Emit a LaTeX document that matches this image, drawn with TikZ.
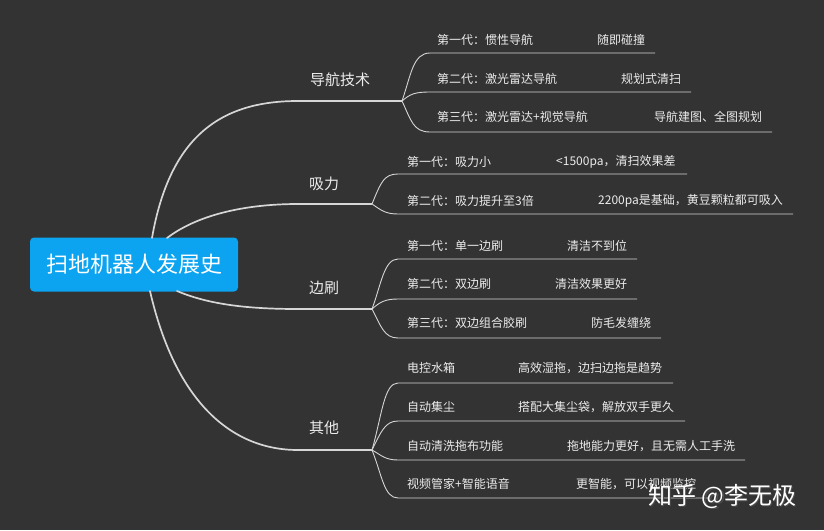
\documentclass[tikz,border=0pt]{standalone}
\usepackage{fontspec}
\setmainfont{Noto Sans CJK SC}
\definecolor{bg}{RGB}{51,51,51}
\definecolor{rootblue}{RGB}{12,163,240}
\definecolor{linec}{RGB}{214,214,214}
\definecolor{txt}{RGB}{236,236,236}
\begin{document}
\begin{tikzpicture}[x=1pt,y=-1pt,
  mainline/.style={draw=linec,line width=1.7pt,line cap=round},
  midline/.style={draw=linec,line width=1.1pt},
  subline/.style={draw=linec,line width=0.9pt},
  branchtxt/.style={text=txt,font=\fontsize{15}{15}\selectfont,inner sep=0pt},
  subtxt/.style={text=txt,font=\fontsize{12}{12}\selectfont,inner sep=0pt,anchor=west},
  rootbox/.style={fill=rootblue,rounded corners=4pt,text=white,font=\fontsize{22}{22}\selectfont,minimum width=208pt,minimum height=54pt,inner sep=0pt}]
\useasboundingbox (0,0) rectangle (824,530);
\fill[bg] (0,0) rectangle (824,530);

% root
\node[rootbox] (root) at (134,264.5) {扫地机器人发展史};
\coordinate (r1) at (152,238);
\coordinate (r2) at (167,238);
\coordinate (r3) at (177,291);
\coordinate (r4) at (150,291);

% main branch coordinates
\coordinate (b1) at (298,101); \coordinate (b1e) at (382,101); \coordinate (f1) at (402,101);
\coordinate (b2) at (298,204); \coordinate (b2e) at (352,204); \coordinate (f2) at (372,204);
\coordinate (b3) at (298,309); \coordinate (b3e) at (352,309); \coordinate (f3) at (372,309);
\coordinate (b4) at (298,450); \coordinate (b4e) at (352,450); \coordinate (f4) at (372,450);

\draw[mainline] (r1) .. controls (170,135) and (222,101) .. (b1) -- (b1e);
\draw[mainline] (r2) .. controls (200,213) and (250,204) .. (b2) -- (b2e);
\draw[mainline] (r3) .. controls (210,305) and (250,309) .. (b3) -- (b3e);
\draw[mainline] (r4) .. controls (175,400) and (230,450) .. (b4) -- (b4e);
\draw[midline] (b1e) -- (f1);
\draw[midline] (b2e) -- (f2);
\draw[midline] (b3e) -- (f3);
\draw[midline] (b4e) -- (f4);

\node[branchtxt] (n1) at (340,80) {导航技术};
\node[branchtxt] (n2) at (324,184) {吸力};
\node[branchtxt] (n3) at (324,288) {边刷};
\node[branchtxt] (n4) at (324,428) {其他};

% --- 导航技术 sub-branches
\coordinate (s11) at (430,53);  \coordinate (e11) at (655,53);
\coordinate (s12) at (430,92);  \coordinate (e12) at (691,92);
\coordinate (s13) at (430,132); \coordinate (e13) at (772,132);
\draw[subline] (f1) .. controls (411,75) and (413,53) .. (s11) -- (e11);
\draw[subline] (f1) .. controls (410,94) and (415,92) .. (s12) -- (e12);
\draw[subline] (f1) .. controls (411,120) and (413,132) .. (s13) -- (e13);
\node[subtxt] (t11) at (437,40) {第一代：惯性导航};
\node[subtxt] (u11) at (597,40) {随即碰撞};
\node[subtxt] (t12) at (437,79) {第二代：激光雷达导航};
\node[subtxt] (u12) at (621,79) {规划式清扫};
\node[subtxt] (t13) at (437,117) {第三代：激光雷达+视觉导航};
\node[subtxt] (u13) at (654,117) {导航建图、全图规划};

% --- 吸力 sub-branches
\coordinate (s21) at (398,174); \coordinate (e21) at (687,174);
\coordinate (s22) at (398,214); \coordinate (e22) at (793,214);
\draw[subline] (f2) .. controls (381,182) and (384,174) .. (s21) -- (e21);
\draw[subline] (f2) .. controls (381,210) and (385,214) .. (s22) -- (e22);
\node[subtxt] (t21) at (407,162) {第一代：吸力小};
\node[subtxt] (u21) at (556,162) {<1500pa，清扫效果差};
\node[subtxt] (t22) at (407,201) {第二代：吸力提升至3倍};
\node[subtxt] (u22) at (598,201) {2200pa是基础，黄豆颗粒都可吸入};

% --- 边刷 sub-branches
\coordinate (s31) at (398,259); \coordinate (e31) at (637,259);
\coordinate (s32) at (398,299); \coordinate (e32) at (637,299);
\coordinate (s33) at (398,338); \coordinate (e33) at (661,338);
\draw[subline] (f3) .. controls (381,285) and (384,259) .. (s31) -- (e31);
\draw[subline] (f3) .. controls (380,302) and (385,299) .. (s32) -- (e32);
\draw[subline] (f3) .. controls (381,326) and (384,338) .. (s33) -- (e33);
\node[subtxt] (t31) at (407,246) {第一代：单一边刷};
\node[subtxt] (u31) at (567,246) {清洁不到位};
\node[subtxt] (t32) at (407,284) {第二代：双边刷};
\node[subtxt] (u32) at (555,284) {清洁效果更好};
\node[subtxt] (t33) at (407,323) {第三代：双边组合胶刷};
\node[subtxt] (u33) at (591,323) {防毛发缠绕};

% --- 其他 sub-branches
\coordinate (s41) at (398,383); \coordinate (e41) at (673,383);
\coordinate (s42) at (398,421); \coordinate (e42) at (685,421);
\coordinate (s43) at (398,460); \coordinate (e43) at (745,460);
\coordinate (s44) at (398,498); \coordinate (e44) at (708,498);
\draw[subline] (f4) .. controls (382,415) and (384,383) .. (s41) -- (e41);
\draw[subline] (f4) .. controls (381,432) and (385,421) .. (s42) -- (e42);
\draw[subline] (f4) .. controls (381,455) and (385,460) .. (s43) -- (e43);
\draw[subline] (f4) .. controls (382,475) and (384,498) .. (s44) -- (e44);
\node[subtxt] (t41) at (407,368) {电控水箱};
\node[subtxt] (u41) at (518,368) {高效湿拖，边扫边拖是趋势};
\node[subtxt] (t42) at (407,407) {自动集尘};
\node[subtxt] (u42) at (518,407) {搭配大集尘袋，解放双手更久};
\node[subtxt] (t43) at (407,446) {自动清洗拖布功能};
\node[subtxt] (u43) at (567,446) {拖地能力更好，且无需人工手洗};
\node[subtxt] (t44) at (407,484) {视频管家+智能语音};
\node[subtxt] (u44) at (576,484) {更智能，可以视频监控};

% watermark
\node[anchor=west,inner sep=0pt,text=black!70,font=\fontsize{24}{24}\selectfont] (wms) at (649.5,497.5) {知乎 @李无极};
\node[anchor=west,inner sep=0pt,text=white,font=\fontsize{24}{24}\selectfont] (wm) at (648,496) {知乎 @李无极};
\end{tikzpicture}
\end{document}
